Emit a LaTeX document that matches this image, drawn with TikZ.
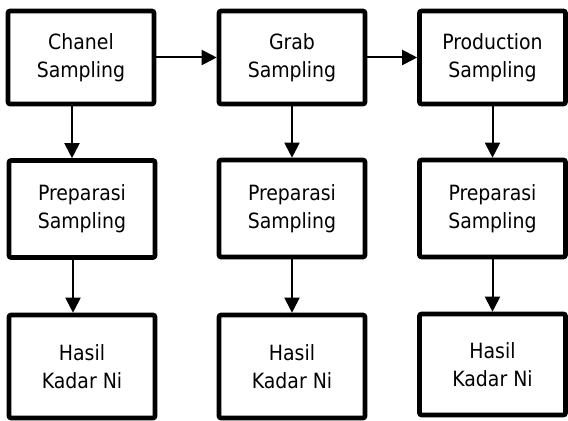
\documentclass[tikz,border=0pt]{standalone}
\usepackage{fontspec}
\setmainfont{DejaVu Sans Condensed}
\usetikzlibrary{arrows.meta}

\begin{document}
\begin{tikzpicture}
            [
                x = 0.5pt, y = -0.5pt,
                box/.style = {shape=rectangle, rounded corners=1pt,
                draw, line width=2.3pt, align=center, inner sep=0pt,
                minimum width=73pt,
                font=\fontsize{10.5}{14}\selectfont},
                arr/.style = {line width=1pt, -{Triangle[length=7.5pt,width=7.5pt]}}
            ]
            \useasboundingbox (0,0) rectangle (568,421);
            % first row
            \node[box, minimum height=46.5pt] (chanel) at (81,57.5) {Chanel\\Sampling};
            \node[box, minimum height=46.5pt] (grab) at (292,57.5) {Grab\\Sampling};
            \node[box, minimum height=46.5pt] (prod) at (492.5,57.5) {Production\\Sampling};
            % second row
            \node[box, minimum height=48.5pt] (prepA) at (82,209) {Preparasi\\Sampling};
            \node[box, minimum height=48.5pt] (prepB) at (292,208.5) {Preparasi\\Sampling};
            \node[box, minimum height=48.5pt] (prepC) at (492.5,208.5) {Preparasi\\Sampling};
            % third row
            \node[box, minimum height=51.5pt] (hasilA) at (82,366.5) {Hasil\\Kadar Ni};
            \node[box, minimum height=51.5pt] (hasilB) at (292,366.5) {Hasil\\Kadar Ni};
            \node[box, minimum height=50.5pt] (hasilC) at (492.5,364.5) {Hasil\\Kadar Ni};

            \draw[arr] (chanel) -- (grab);
            \draw[arr] (grab) -- (prod);
            \draw[arr] ([xshift=-4.5pt]chanel.south) -- ([xshift=-4.5pt]chanel.south |- prepA.north);
            \draw[arr] ([xshift=-4.5pt]prepA.south) -- ([xshift=-4.5pt]prepA.south |- hasilA.north);
            \draw[arr] (grab) -- (prepB);
            \draw[arr] (prepB) -- (hasilB);
            \draw[arr] (prod) -- (prepC);
            \draw[arr] (prepC) -- (hasilC);
        \end{tikzpicture}
\end{document}
